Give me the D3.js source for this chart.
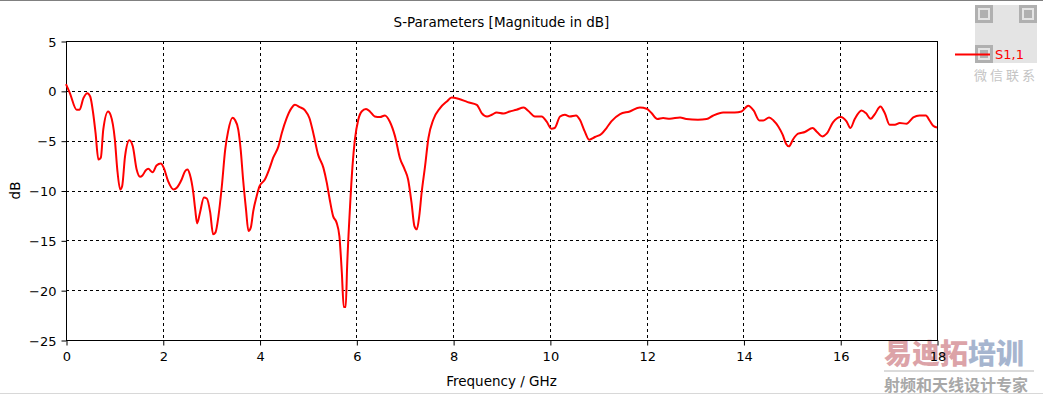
<!DOCTYPE html>
<html><head><meta charset="utf-8">
<script src="https://cdn.jsdelivr.net/npm/d3@7"></script>
<style>
body{margin:0;background:#fff;}
svg{display:block;font-family:"DejaVu Sans",sans-serif;}
</style></head>
<body><svg id="c" width="1043" height="396"></svg>
<script>
const title = "S-Parameters [Magnitude in dB]";
const xLabel = "Frequency / GHz";
const yLabel = "dB";
const seriesName = "S1,1";
const xTicks = [0,2,4,6,8,10,12,14,16,18];
const yTicks = [5,0,-5,-10,-15,-20,-25];
const freq = [0.00,0.08,0.22,0.28,0.36,0.44,0.50,0.56,0.61,0.67,0.72,0.77,0.87,0.92,1.01,1.06,1.12,1.16,1.22,1.31,1.38,1.46,1.53,1.58,1.65,1.70,1.79,1.87,1.96,2.02,2.11,2.22,2.29,2.39,2.46,2.51,2.56,2.63,2.67,2.71,2.77,2.85,2.91,2.98,3.04,3.09,3.15,3.22,3.29,3.35,3.44,3.49,3.56,3.61,3.66,3.72,3.77,3.82,3.87,3.94,4.00,4.11,4.21,4.28,4.39,4.46,4.56,4.66,4.73,4.83,4.94,5.03,5.11,5.21,5.32,5.39,5.45,5.52,5.59,5.65,5.70,5.74,5.78,5.81,5.87,5.92,5.97,6.04,6.11,6.20,6.28,6.38,6.49,6.59,6.69,6.80,6.90,7.00,7.07,7.14,7.20,7.25,7.30,7.35,7.42,7.49,7.59,7.73,7.87,7.97,8.11,8.30,8.49,8.59,8.70,8.80,8.90,9.04,9.17,9.31,9.46,9.55,9.69,9.83,9.93,10.03,10.10,10.21,10.31,10.41,10.54,10.62,10.72,10.81,10.93,11.07,11.17,11.27,11.45,11.65,11.86,12.00,12.10,12.22,12.34,12.48,12.69,12.82,13.06,13.24,13.37,13.58,13.82,13.96,14.10,14.21,14.33,14.41,14.53,14.62,14.72,14.81,14.88,14.94,15.03,15.13,15.27,15.43,15.51,15.63,15.72,15.85,16.01,16.13,16.21,16.30,16.44,16.53,16.63,16.72,16.83,16.92,17.02,17.13,17.23,17.37,17.51,17.64,17.77,17.85,17.92,18.00];
const s11 = [0.67,-0.23,-1.9,-1.9,-0.73,-0.23,-0.57,-2.2,-4.2,-6.9,-6.7,-3.9,-2.07,-2.4,-4.9,-7.9,-9.9,-9.57,-6.57,-4.97,-5.57,-7.9,-8.63,-8.5,-7.97,-7.83,-8.17,-7.5,-7.3,-7.73,-9.07,-9.9,-9.73,-8.9,-8.07,-7.9,-8.4,-10.2,-11.9,-13.3,-12.2,-10.7,-10.8,-12.2,-14.4,-14.2,-12.6,-9.6,-5.9,-4.07,-2.7,-2.9,-3.9,-5.9,-8.9,-11.9,-14.07,-13.7,-12.07,-10.57,-9.57,-8.9,-7.73,-6.73,-5.57,-4.23,-2.73,-1.73,-1.4,-1.63,-1.97,-2.73,-4.23,-6.4,-7.73,-9.23,-10.9,-12.57,-13.2,-14.6,-18.2,-21.7,-21.7,-17.6,-11.6,-7.6,-4.9,-2.9,-2.07,-1.83,-2.07,-2.57,-2.63,-2.47,-3.07,-4.57,-6.73,-7.9,-8.9,-11.2,-13.57,-13.9,-12.57,-10.2,-7.57,-4.73,-2.9,-1.73,-1.07,-0.67,-0.8,-1.13,-1.4,-2.23,-2.57,-2.4,-2.17,-2.27,-2.07,-1.9,-1.67,-2.0,-2.57,-2.57,-3.07,-3.8,-3.73,-2.57,-2.4,-2.57,-2.47,-2.9,-4.07,-4.9,-4.63,-4.3,-3.73,-3.07,-2.33,-2.07,-1.67,-1.8,-2.23,-2.83,-2.73,-2.8,-2.67,-2.83,-2.9,-2.83,-2.5,-2.17,-2.17,-2.07,-1.5,-1.97,-2.97,-2.97,-2.67,-2.97,-3.57,-4.4,-5.3,-5.57,-4.83,-4.3,-4.13,-3.73,-4.07,-4.57,-4.3,-3.17,-2.63,-3.07,-3.73,-2.83,-1.97,-2.23,-2.8,-2.3,-1.57,-2.23,-3.4,-3.4,-3.23,-3.3,-2.67,-2.47,-2.47,-3.0,-3.5,-3.67];

const svg = d3.select("#c");
const W = 1043, H = 396;
const m = {left:66, right:937, top:41, bottom:340};
const x = d3.scaleLinear().domain([0,18]).range([m.left, m.right]);
const y = d3.scaleLinear().domain([-25,5]).range([m.bottom, m.top]);

// window borders
svg.append("line").attr("x1",0).attr("x2",W).attr("y1",0.5).attr("y2",0.5).attr("stroke","#808080");
svg.append("line").attr("x1",0).attr("x2",W).attr("y1",393.5).attr("y2",393.5).attr("stroke","#d8d8d8");

// watermarks (faint)
const wm = svg.append("g");
const qr = wm.append("g").attr("transform","translate(975,5)");
qr.append("rect").attr("width",62).attr("height",58).attr("fill","#e4e4e4");
[[0,0],[44,0],[0,40]].forEach(([a,b])=>{
  qr.append("rect").attr("x",a+1.5).attr("y",b+1.5).attr("width",15).attr("height",15).attr("fill","none").attr("stroke","#b0b0b0").attr("stroke-width",3);
  qr.append("rect").attr("x",a+5).attr("y",b+5).attr("width",8).attr("height",8).attr("fill","#b0b0b0");
});
wm.append("text").attr("x",1006).attr("y",80).attr("text-anchor","middle").attr("font-family","Noto Sans CJK SC").attr("font-size",13).attr("letter-spacing",3).attr("fill","#c4c4c4").text("微信联系");
wm.append("text").attr("x",884).attr("y",364).attr("font-family","Noto Sans CJK SC").attr("font-weight",900).attr("font-size",28).attr("fill","#dca3a8").text("易迪拓").append("tspan").attr("fill","#a6b5cf").text("培训");
wm.append("line").attr("x1",884).attr("x2",1034).attr("y1",371).attr("y2",371).attr("stroke","#cfcfcf").attr("stroke-width",1.5);
wm.append("text").attr("x",884).attr("y",391).attr("font-family","Noto Sans CJK SC").attr("font-weight",700).attr("font-size",16).attr("fill","#a8a8a8").text("射频和天线设计专家");

// grid
const g = svg.append("g");
g.selectAll(".gx").data(xTicks.filter(d=>d>0&&d<18)).join("line")
  .attr("x1",d=>Math.round(x(d))+0.5).attr("x2",d=>Math.round(x(d))+0.5)
  .attr("y1",m.top).attr("y2",m.bottom)
  .attr("stroke","#000").attr("stroke-dasharray","3,3");
g.selectAll(".gy").data(yTicks.filter(d=>d>-25&&d<5)).join("line")
  .attr("y1",d=>Math.round(y(d))+0.5).attr("y2",d=>Math.round(y(d))+0.5)
  .attr("x1",m.left).attr("x2",m.right)
  .attr("stroke","#000").attr("stroke-dasharray","3,3");

// frame
svg.append("rect").attr("x",m.left+0.5).attr("y",m.top+0.5)
  .attr("width",m.right-m.left).attr("height",m.bottom-m.top)
  .attr("fill","none").attr("stroke","#000");

// axes
const xa = svg.append("g").attr("transform",`translate(0.5,${m.bottom+0.5})`)
  .call(d3.axisBottom(x).tickValues(xTicks).tickSize(5).tickSizeOuter(0).tickPadding(6));
const ya = svg.append("g").attr("transform",`translate(${m.left+0.5},0.5)`)
  .call(d3.axisLeft(y).tickValues(yTicks).tickSize(5).tickSizeOuter(0).tickPadding(5));
[xa,ya].forEach(a=>{
  a.select(".domain").remove();
  a.selectAll("line").attr("stroke","#000");
  a.selectAll("text").attr("font-family","DejaVu Sans").attr("font-size",13).attr("fill","#000");
});
ya.selectAll("text").attr("dy","0.35em");

// line
const line = d3.line().x((d,i)=>x(freq[i])).y(d=>y(d)).curve(d3.curveMonotoneX);
svg.append("path").datum(s11).attr("d",line).attr("fill","none")
  .attr("stroke","#ff0000").attr("stroke-width",2).attr("stroke-linejoin","round");

// titles
svg.append("text").attr("x",(m.left+m.right)/2).attr("y",27).attr("text-anchor","middle")
  .attr("font-size",13.5).attr("fill","#000").text(title);
svg.append("text").attr("x",(m.left+m.right)/2).attr("y",386).attr("text-anchor","middle")
  .attr("font-size",13.5).attr("fill","#000").text(xLabel);
svg.append("text").attr("transform",`translate(20,${(m.top+m.bottom)/2}) rotate(-90)`)
  .attr("text-anchor","middle").attr("font-size",13.5).attr("fill","#000").text(yLabel);

// legend
svg.append("line").attr("x1",955).attr("x2",990).attr("y1",54.5).attr("y2",54.5).attr("stroke","#ff0000").attr("stroke-width",2);
svg.append("text").attr("x",995).attr("y",59).attr("font-size",13).attr("fill","#ff0000").text(seriesName);
</script></body></html>
